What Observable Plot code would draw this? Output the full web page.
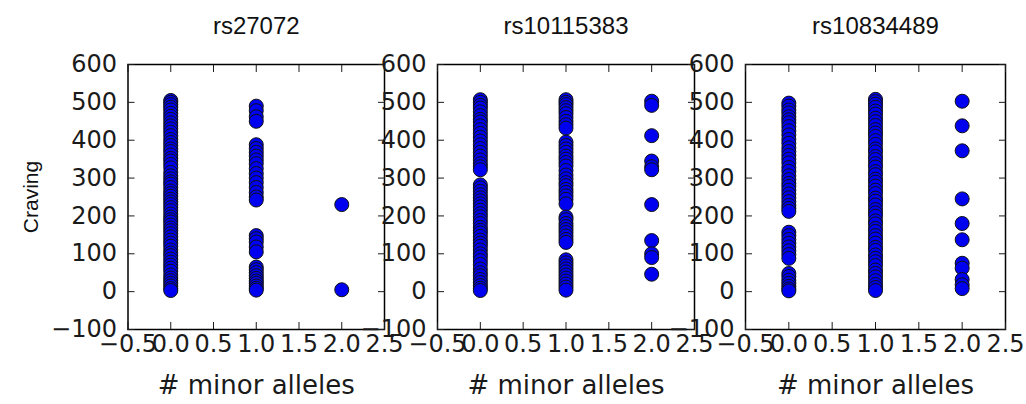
<!DOCTYPE html>
<html>
<head>
<meta charset="utf-8">
<script src="https://cdn.jsdelivr.net/npm/d3@7"></script>
<script src="https://cdn.jsdelivr.net/npm/@observablehq/plot@0.6"></script>
<style>
  html, body { margin: 0; padding: 0; background: white; }
  #chart { position: relative; width: 1026px; height: 404px; overflow: hidden; }
  #chart svg { position: absolute; left: 0; top: 0; }
</style>
</head>
<body>
<div id="chart"></div>
<script>
// ---- data ----
const snps = ["rs27072", "rs10115383", "rs10834489"];
const genotypes = [0, 1, 2];
const xTicks = [-0.5, 0, 0.5, 1, 1.5, 2, 2.5];
const yTicks = [-100, 0, 100, 200, 300, 400, 500, 600];

const rs27072_g0 = [505, 500, 494, 487, 480, 471, 463, 455, 446, 438, 430, 421, 412, 402, 394, 386, 377, 370, 361, 352, 345, 336, 327, 315, 306, 298, 290, 284, 275, 266, 259, 252, 244, 237, 230, 222, 214, 205, 197, 190, 184, 176, 168, 161, 153, 145, 136, 128, 120, 110, 102, 95, 86, 78, 70, 62, 54, 44, 36, 29, 22, 15, 8, 3];
const rs27072_g1 = [490, 478, 462, 450, 388, 378, 368, 358, 348, 338, 325, 312, 300, 288, 275, 262, 250, 242, 148, 140, 131, 118, 105, 65, 58, 50, 42, 35, 28, 22, 15, 9, 4];
const rs27072_g2 = [230, 5];

const rs10115383_g0 = [507, 500, 492, 485, 475, 465, 455, 448, 438, 428, 418, 408, 398, 388, 378, 368, 358, 348, 338, 330, 322, 282, 274, 265, 256, 248, 240, 232, 224, 215, 206, 198, 188, 180, 170, 162, 155, 146, 136, 128, 120, 110, 100, 92, 82, 72, 60, 50, 42, 32, 24, 16, 9, 3];
const rs10115383_g1 = [507, 500, 494, 486, 478, 470, 460, 450, 441, 432, 395, 386, 377, 368, 358, 350, 341, 332, 320, 308, 298, 288, 280, 270, 262, 253, 244, 232, 197, 190, 180, 172, 164, 156, 147, 138, 130, 84, 76, 68, 60, 52, 44, 36, 28, 20, 12, 4];
const rs10115383_g2 = [503, 492, 412, 345, 330, 322, 230, 135, 100, 90, 46];

const rs10834489_g0 = [498, 490, 480, 472, 462, 454, 446, 436, 425, 414, 402, 392, 380, 370, 360, 350, 340, 328, 318, 306, 296, 286, 278, 268, 258, 248, 238, 228, 220, 212, 157, 148, 138, 128, 118, 108, 98, 88, 48, 40, 30, 22, 14, 7, 2];
const rs10834489_g1 = [508, 502, 495, 487, 477, 469, 458, 449, 439, 428, 419, 410, 399, 389, 377, 369, 357, 349, 338, 329, 317, 309, 297, 289, 279, 268, 259, 247, 239, 229, 217, 208, 199, 187, 179, 167, 159, 148, 139, 128, 117, 109, 97, 88, 79, 69, 57, 48, 39, 29, 19, 11, 3];
const rs10834489_g2 = [503, 438, 372, 245, 180, 137, 75, 62, 32, 18, 8];

const panelValues = {
  rs27072: [rs27072_g0, rs27072_g1, rs27072_g2],
  rs10115383: [rs10115383_g0, rs10115383_g1, rs10115383_g2],
  rs10834489: [rs10834489_g0, rs10834489_g1, rs10834489_g2]
};

// ---- layout ----
const W = 1026, H = 404;
const frames = [[127.5, 384], [437, 694], [745, 1005]];
const frameTop = 64, frameBottom = 329;

const chart = document.getElementById("chart");

snps.forEach((snp, i) => {
  const rows = [];
  panelValues[snp].forEach((vals, g) => vals.forEach(v => rows.push({snp, alleles: genotypes[g], craving: v})));
  const [l, r] = frames[i];
  const marks = [
    Plot.frame({stroke: "black", strokeWidth: 1.5}),
    // inward ticks on all four sides
    Plot.axisX(xTicks, {anchor: "bottom", tickSize: -7, tickFormat: () => "", label: null}),
    Plot.axisX(xTicks, {anchor: "top", tickSize: -7, tickFormat: () => "", label: null}),
    Plot.axisY(yTicks, {anchor: "left", tickSize: -7, tickFormat: () => "", label: null}),
    Plot.axisY(yTicks, {anchor: "right", tickSize: -7, tickFormat: () => "", label: null}),
    // tick labels
    Plot.axisX(xTicks, {anchor: "bottom", tickSize: 0, tickPadding: 5, tickFormat: ".1f", label: null, fontSize: 24, fill: "#1a1a1a"}),
    Plot.axisY(yTicks, {anchor: "left", tickSize: 0, tickPadding: 11, tickFormat: d => d3.format("d")(d), label: null, fontSize: 24, fill: "#1a1a1a"}),
    Plot.dot(rows, {x: "alleles", y: "craving", r: 7, fill: "#0000f0", stroke: "#111", strokeWidth: 1}),
    Plot.text([snp], {frameAnchor: "top", lineAnchor: "middle", dy: -38, text: d => d, fontSize: 24, fontFamily: "Liberation Sans, Arial, sans-serif", fill: "#111"}),
    Plot.text(["# minor alleles"], {frameAnchor: "bottom", lineAnchor: "middle", dy: 56, text: d => d, fontSize: 26, fill: "#1a1a1a"})
  ];
  if (i === 0) {
    marks.push(Plot.text(["Craving"], {frameAnchor: "left", textAnchor: "middle", lineAnchor: "middle", dx: -97, rotate: -90, text: d => d, fontSize: 21, fontFamily: "Liberation Sans, Arial, sans-serif", fill: "#111"}));
  }
  const svg = Plot.plot({
    width: W,
    height: H,
    marginLeft: l,
    marginRight: W - r,
    marginTop: frameTop,
    marginBottom: H - frameBottom,
    x: {domain: [-0.5, 2.5]},
    y: {domain: [-100, 600]},
    style: {background: "none", overflow: "visible", fontFamily: "DejaVu Sans, sans-serif", fontSize: "24px", color: "#1a1a1a"},
    marks
  });
  chart.appendChild(svg);
});
</script>
</body>
</html>
